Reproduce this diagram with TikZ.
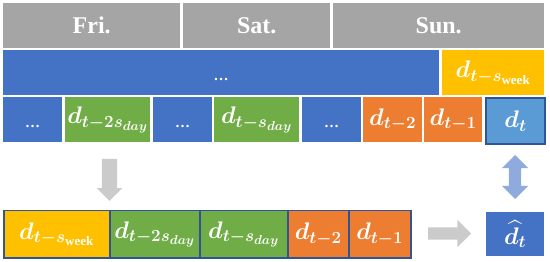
\RequirePackage{fix-cm}
\documentclass[tikz,border=0pt]{standalone}
\usepackage{amsmath,bm}
\usepackage{fontspec}
\setmainfont{Liberation Serif}
\usetikzlibrary{shapes.arrows}
\DeclareMathSizes{24}{24}{17}{13}

\definecolor{grigio}{HTML}{A5A5A5}
\definecolor{grigiochiaro}{HTML}{CBCBCB}
\definecolor{blu}{HTML}{4472C4}
\definecolor{bluchiaro}{HTML}{5B9BD5}
\definecolor{bluscuro}{HTML}{2F5597}
\definecolor{azzurro}{HTML}{8FAADC}
\definecolor{giallo}{HTML}{FFC000}
\definecolor{verde}{HTML}{70AD47}
\definecolor{arancio}{HTML}{ED7D31}

\begin{document}
\begin{tikzpicture}[x=1pt, y=-1pt,
    cell/.style={anchor=north west, inner sep=0pt, minimum height=45pt, text=white,
                 font=\fontsize{24}{28}\selectfont},
    puntini/.style={cell, fill=blu, font=\fontsize{15}{18}\selectfont\bfseries, text height=16pt, text depth=0pt},
    giorno/.style={cell, fill=grigio, font=\fontsize{24}{28}\selectfont\bfseries},
    basso/.style={cell, draw=bluscuro, line width=1.5pt, minimum height=47pt},
    freccia/.style={fill=grigiochiaro, inner sep=0pt, single arrow head indent=0pt}]
    \useasboundingbox (0,0) rectangle (550,262);

    % Giorni
    \node[giorno, minimum width=177pt] (fri) at (3,3) {Fri.};
    \node[giorno, minimum width=147pt] (sat) at (183,3) {Sat.};
    \node[giorno, minimum width=211pt] (sun) at (333,3) {Sun.};

    % Settimana
    \node[puntini, minimum width=436pt] (sett) at (3,50) {\dots};
    \node[cell, fill=giallo, minimum width=102pt] (week) at (442,50) {$\bm{d_{t-s_{\mathrm{week}}}}$};

    % Ore
    \node[puntini, minimum width=59pt] (p1) at (3,97) {\dots};
    \node[cell, fill=verde, minimum width=85pt] (day2) at (65,97) {$\bm{d_{t-2s_{day}}}$};
    \node[puntini, minimum width=59pt] (p2) at (153,97) {\dots};
    \node[cell, fill=verde, minimum width=85pt] (day1) at (214,97) {$\bm{d_{t-s_{day}}}$};
    \node[puntini, minimum width=59pt] (p3) at (302,97) {\dots};
    \node[cell, fill=arancio, minimum width=59pt] (h2) at (363,97) {$\bm{d_{t-2}}$};
    \node[cell, fill=arancio, minimum width=58pt] (h1) at (424,97) {$\bm{d_{t-1}}$};
    \node[cell, fill=bluchiaro, draw=bluscuro, line width=2pt, minimum width=59pt, minimum height=46pt] (dt) at (485,97) {$\bm{d_t}$};

    % Ingresso
    \node[basso, fill=giallo, minimum width=106pt] (in1) at (3,210) {$\bm{d_{t-s_{\mathrm{week}}}}$};
    \node[basso, fill=verde, minimum width=90pt] (in2) at (109,210) {$\bm{d_{t-2s_{day}}}$};
    \node[basso, fill=verde, minimum width=88pt] (in3) at (199,210) {$\bm{d_{t-s_{day}}}$};
    \node[basso, fill=arancio, minimum width=61pt] (in4) at (287,210) {$\bm{d_{t-2}}$};
    \node[basso, fill=arancio, minimum width=62pt] (in5) at (348,210) {$\bm{d_{t-1}}$};

    % Previsione
    \node[cell, fill=blu, minimum width=58pt, minimum height=44pt] (pred) at (486,212) {$\widehat{\bm{d}_{\bm{t}}}$};

    % Frecce
    \node[freccia, single arrow, shape border rotate=270, inner sep=7.5pt,
          single arrow head extend=5pt, minimum height=42pt] (giu) at (109.5,176) {};
    \node[freccia, single arrow, inner sep=6pt,
          single arrow head extend=7.5pt, minimum height=43pt] (destra) at (446.5,233.5) {};
    \node[fill=azzurro, double arrow, shape border rotate=90, inner sep=6pt, double arrow head indent=0pt,
          double arrow head extend=7pt, minimum height=44pt] (confronto) at (515,177) {};
\end{tikzpicture}
\end{document}
